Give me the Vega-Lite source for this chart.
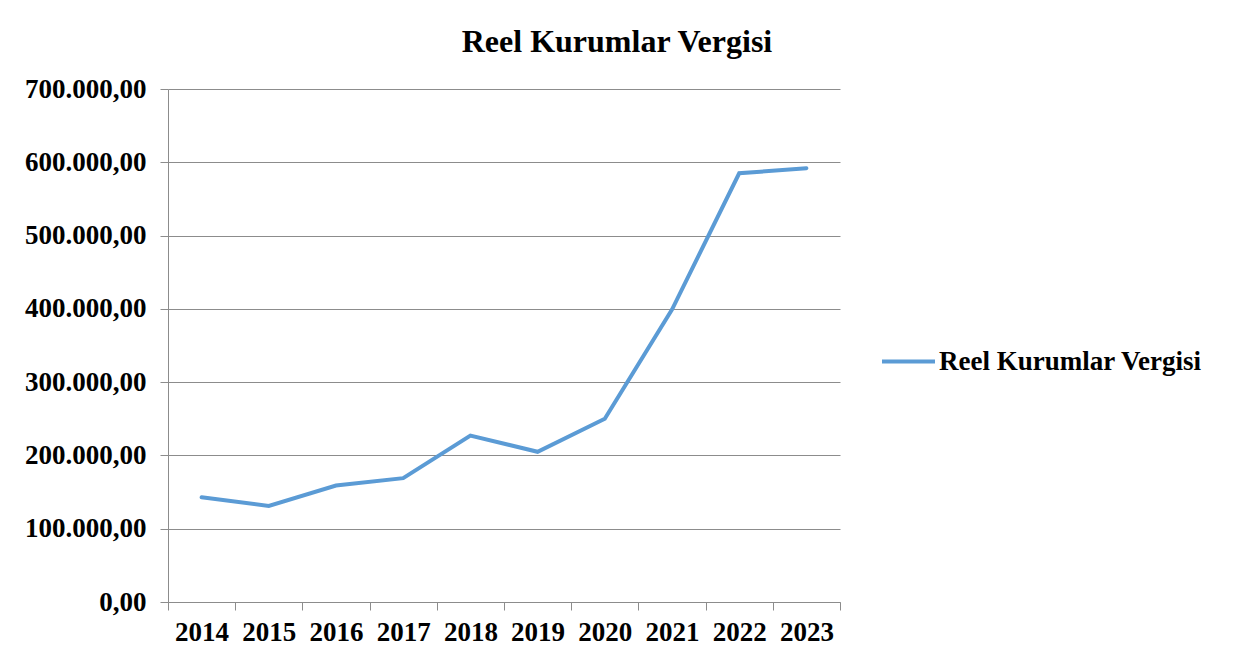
{
  "$schema": "https://vega.github.io/schema/vega-lite/v6.json",
  "width": 672,
  "height": 513,
  "autosize": {"type": "none"},
  "padding": {"left": 168, "top": 89, "right": 393, "bottom": 68},
  "background": "white",
  "title": {
    "text": "Reel Kurumlar Vergisi",
    "font": "Liberation Serif",
    "fontSize": 32,
    "fontWeight": "bold",
    "color": "#000000",
    "anchor": "middle",
    "dx": 113,
    "offset": 16
  },
  "data": {
    "values": [
      {"Yil": "2014", "Seri": "Reel Kurumlar Vergisi", "Deger": 143000},
      {"Yil": "2015", "Seri": "Reel Kurumlar Vergisi", "Deger": 131000},
      {"Yil": "2016", "Seri": "Reel Kurumlar Vergisi", "Deger": 159000},
      {"Yil": "2017", "Seri": "Reel Kurumlar Vergisi", "Deger": 169000},
      {"Yil": "2018", "Seri": "Reel Kurumlar Vergisi", "Deger": 227000},
      {"Yil": "2019", "Seri": "Reel Kurumlar Vergisi", "Deger": 205000},
      {"Yil": "2020", "Seri": "Reel Kurumlar Vergisi", "Deger": 250000},
      {"Yil": "2021", "Seri": "Reel Kurumlar Vergisi", "Deger": 399000},
      {"Yil": "2022", "Seri": "Reel Kurumlar Vergisi", "Deger": 585000},
      {"Yil": "2023", "Seri": "Reel Kurumlar Vergisi", "Deger": 592000}
    ]
  },
  "mark": {"type": "line", "strokeWidth": 4, "strokeCap": "round", "strokeJoin": "miter"},
  "encoding": {
    "x": {
      "field": "Yil",
      "type": "ordinal",
      "bandPosition": 0.5,
      "scale": {"type": "band", "paddingInner": 0, "paddingOuter": 0},
      "axis": {
        "title": null,
        "labelAngle": 0,
        "tickBand": "extent",
        "tickSize": 8,
        "labelPadding": 9,
        "grid": false
      }
    },
    "y": {
      "field": "Deger",
      "type": "quantitative",
      "scale": {"domain": [0, 700000], "nice": false},
      "axis": {
        "title": null,
        "format": ",.2f",
        "values": [0, 100000, 200000, 300000, 400000, 500000, 600000, 700000],
        "tickSize": 8,
        "labelPadding": 14,
        "grid": true
      }
    },
    "color": {
      "field": "Seri",
      "type": "nominal",
      "scale": {"range": ["#5b9bd5"]},
      "legend": {
        "title": null,
        "orient": "none",
        "legendX": 712,
        "legendY": 244,
        "symbolType": "stroke",
        "symbolSize": 2809,
        "symbolStrokeWidth": 4,
        "labelOffset": 2
      }
    }
  },
  "config": {
    "locale": {
      "number": {"decimal": ",", "thousands": ".", "grouping": [3], "currency": ["", " ₺"]}
    },
    "view": {"stroke": null},
    "axis": {
      "labelFont": "Liberation Serif",
      "labelFontSize": 27,
      "labelFontWeight": "bold",
      "labelColor": "#000000",
      "domainColor": "#8c8c8c",
      "tickColor": "#8c8c8c",
      "gridColor": "#8c8c8c",
      "domainWidth": 1,
      "tickWidth": 1,
      "gridWidth": 1
    },
    "legend": {
      "labelFont": "Liberation Serif",
      "labelFontSize": 27,
      "labelFontWeight": "bold",
      "labelColor": "#000000",
      "labelLimit": 400
    }
  }
}
